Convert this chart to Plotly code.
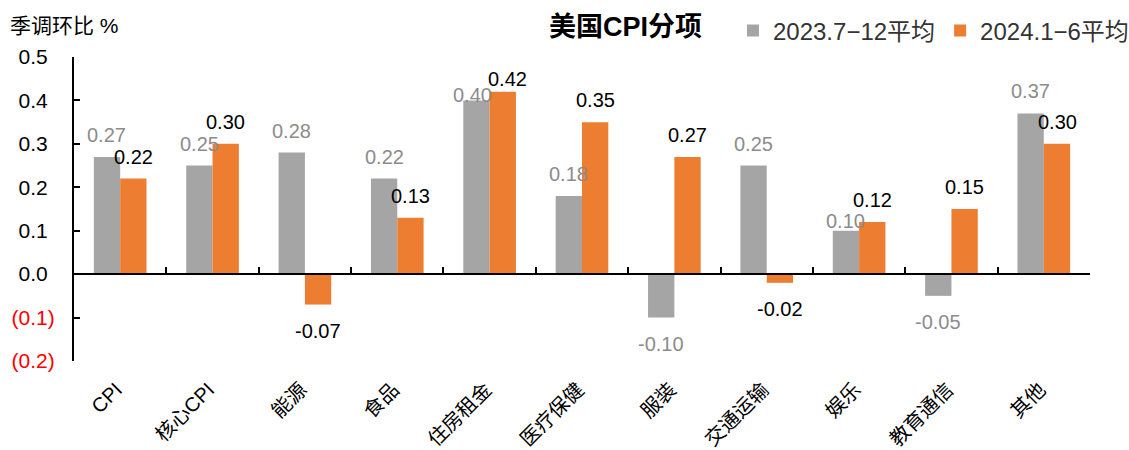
import plotly.graph_objects as go

# ---------------- data ----------------
categories = ["CPI", "核心CPI", "能源", "食品", "住房租金", "医疗保健",
              "服装", "交通运输", "娱乐", "教育通信", "其他"]
series_names = ["2023.7−12平均", "2024.1−6平均"]
h2_2023 = [0.27, 0.25, 0.28, 0.22, 0.40, 0.18, -0.10, 0.25, 0.10, -0.05, 0.37]
h1_2024 = [0.22, 0.30, -0.07, 0.13, 0.42, 0.35, 0.27, -0.02, 0.12, 0.15, 0.30]
y_tickvals = [0.5, 0.4, 0.3, 0.2, 0.1, 0.0, -0.1, -0.2]
y_ticktext = ["0.5", "0.4", "0.3", "0.2", "0.1", "0.0", "(0.1)", "(0.2)"]
title_text = "美国CPI分项"
unit_text = "季调环比 %"

# ---------------- style ----------------
FONT = "Liberation Sans, Arial, Noto Sans CJK SC, sans-serif"
GRAY = "#A5A5A5"
ORANGE = "#ED7D31"
LABEL_COLORS = ["#8C8C8C", "#000000"]
# manual pixel nudges of a few data labels (series index, category) -> (dx, dy)
label_nudge = {(0, "住房租金"): (-4, -17), (1, "住房租金"): (5, -9), (0, "娱乐"): (0, -12)}

fig = go.Figure()
for name, vals, col in zip(series_names, [h2_2023, h1_2024], [GRAY, ORANGE]):
    fig.add_trace(go.Bar(name=name, x=categories, y=vals, marker_color=col,
                         marker_line_width=0, hoverinfo="x+y"))

# invisible helper trace for the zero-line category axis (ticks on boundaries)
fig.add_trace(go.Scatter(x=categories, y=[0] * len(categories), xaxis="x2",
                         mode="markers", marker_opacity=0, showlegend=False,
                         hoverinfo="skip"))

# data labels
bar_half = 13.2
annotations = []
for si, vals in enumerate([h2_2023, h1_2024]):
    xs = -bar_half if si == 0 else bar_half
    for cat, v in zip(categories, vals):
        dx, dy = label_nudge.get((si, cat), (0, 0))
        if v >= 0:
            ya, ys = "bottom", 9
        else:
            ya, ys = "top", -13
        annotations.append(dict(
            x=cat, y=v, xref="x", yref="y", text=f"{v:.2f}", showarrow=False,
            xanchor="center", yanchor=ya, xshift=xs + dx, yshift=ys + dy,
            font=dict(family=FONT, size=20, color=LABEL_COLORS[si])))

annotations.append(dict(
    x=-0.065, y=1.102, xref="paper", yref="paper", text=unit_text,
    showarrow=False, xanchor="left", yanchor="middle",
    font=dict(family=FONT, size=21, color="#000000")))

# Excel-style number format: negatives red in parentheses, positives padded by ")" width
y_ticktext_html = [
    f"<span style='color:#FF0000'>{t}</span>" if t.startswith("(")
    else f"{t}<span style='color:rgba(0,0,0,0)'>)</span>"
    for t in y_ticktext]
x_ticktext = [c + "\u00a0" for c in categories]

fig.update_layout(
    width=1129, height=450,
    margin=dict(l=74, r=39, t=57, b=89, autoexpand=False),
    paper_bgcolor="white", plot_bgcolor="white",
    barmode="group", bargap=0.43, bargroupgap=0,
    font=dict(family=FONT, size=20, color="#000000"),
    title=dict(text=f"<b>{title_text}</b>", xref="container", yref="container",
               x=0.554, y=0.942, xanchor="center", yanchor="middle",
               font=dict(family=FONT, size=27, color="#000000")),
    legend=dict(orientation="h", xref="paper", yref="paper",
                x=0.6486, y=1.0855, xanchor="left", yanchor="middle",
                font=dict(family=FONT, size=24, color="#333333"),
                itemwidth=30, tracegroupgap=0, bgcolor="rgba(0,0,0,0)"),
    xaxis=dict(type="category", categoryorder="array", categoryarray=categories,
               range=[-0.5, len(categories) - 0.5], automargin=False,
               tickmode="array", tickvals=categories, ticktext=x_ticktext,
               showline=False, ticks="", tickangle=-45, showgrid=False,
               zeroline=False, ticklabelstandoff=8,
               tickfont=dict(family=FONT, size=20, color="#000000")),
    xaxis2=dict(type="category", categoryorder="array", categoryarray=categories,
                range=[-0.5, len(categories) - 0.5], automargin=False,
                overlaying="x", anchor="free", position=0.2 / 0.7,
                showline=True, linecolor="#000000", linewidth=2,
                ticks="inside", ticklen=6, tickwidth=2, tickcolor="#000000",
                tickson="boundaries", showticklabels=False, showgrid=False,
                zeroline=False),
    yaxis=dict(range=[-0.2, 0.5], tickmode="array", tickvals=y_tickvals,
               ticktext=y_ticktext_html, showline=True, linecolor="#000000",
               linewidth=2, ticks="inside", ticklen=6, tickwidth=2,
               tickcolor="#000000", showgrid=False, zeroline=False,
               ticklabelstandoff=13, automargin=False,
               tickfont=dict(family=FONT, size=21, color="#000000")),
    annotations=annotations,
)

fig.write_html("out.html")
